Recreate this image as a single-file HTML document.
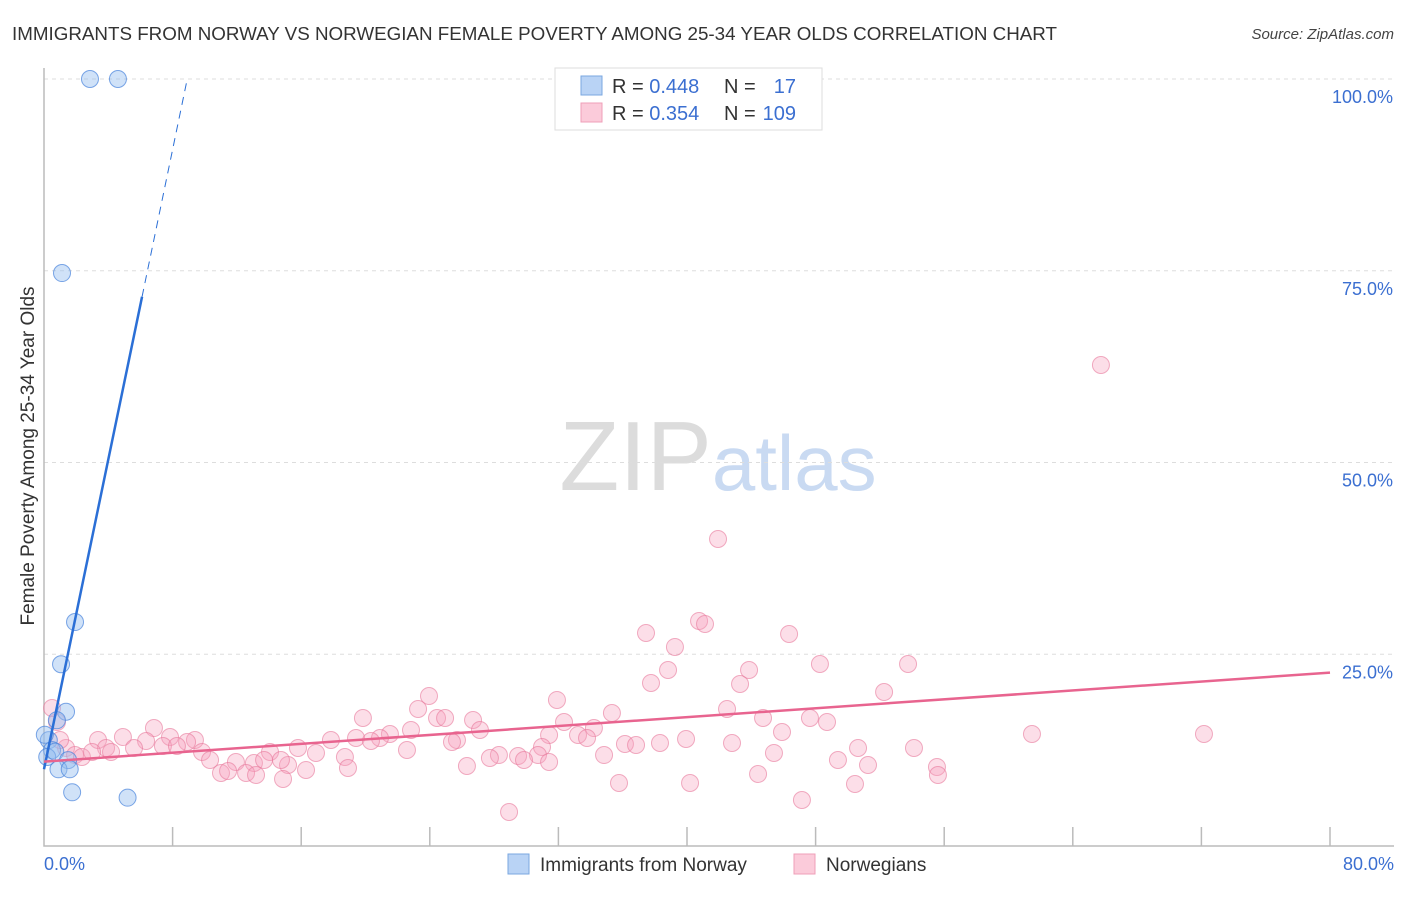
<!DOCTYPE html>
<html><head><meta charset="utf-8"><style>
body{margin:0;background:#fff;font-family:"Liberation Sans",sans-serif}
svg text{font-family:"Liberation Sans",sans-serif}
</style></head><body>
<svg id="chart" width="1406" height="892" xmlns="http://www.w3.org/2000/svg">
<text x="12" y="40" font-size="18.8" fill="#333">IMMIGRANTS FROM NORWAY VS NORWEGIAN FEMALE POVERTY AMONG 25-34 YEAR OLDS CORRELATION CHART</text>
<text x="1394" y="39" font-size="15" fill="#444" text-anchor="end" font-style="italic">Source: ZipAtlas.com</text>
<text x="718" y="490" font-size="98" text-anchor="middle" fill="#dcdcdc" font-family="Liberation Serif">ZIP<tspan fill="#c9daf2" font-family="Liberation Sans" font-size="78">atlas</tspan></text>
<g id="grid"></g><g id="axes"></g><g id="pts"></g><g id="lines"></g>
<text transform="translate(34,456) rotate(-90)" font-size="19" fill="#333" text-anchor="middle">Female Poverty Among 25-34 Year Olds</text>
<g>
<rect x="555" y="68" width="267" height="62" fill="#fff" stroke="#ddd"/>
<rect x="581" y="76" width="21" height="19" fill="#b9d3f5" stroke="#7aa7e0"/>
<rect x="581" y="103" width="21" height="19" fill="#fbcbda" stroke="#ef9fb8"/>
<text x="612" y="93" font-size="20" fill="#333">R = <tspan fill="#3b6fd1">0.448</tspan></text>
<text x="724" y="93" font-size="20" fill="#333">N =</text>
<text x="796" y="93" font-size="20" fill="#3b6fd1" text-anchor="end">17</text>
<text x="612" y="120" font-size="20" fill="#333">R = <tspan fill="#3b6fd1">0.354</tspan></text>
<text x="724" y="120" font-size="20" fill="#333">N =</text>
<text x="796" y="120" font-size="20" fill="#3b6fd1" text-anchor="end">109</text>
</g>
<g>
<rect x="508" y="854" width="21" height="20" fill="#b9d3f5" stroke="#7aa7e0"/>
<text x="540" y="871" font-size="19" fill="#333">Immigrants from Norway</text>
<rect x="794" y="854" width="21" height="20" fill="#fbcbda" stroke="#ef9fb8"/>
<text x="826" y="871" font-size="19" fill="#333">Norwegians</text>
</g>
</svg>
<script>
const xTicks=[8,16,24,32,40,48,56,64,72,80];
const yTicks=[25,50,75,100];
const blueX=[2.86,4.6,1.12,1.93,1.06,1.37,0.8,0.3,0.5,0.2,0.7,1.5,0.9,1.6,1.75,5.2,0.05];
const blueY=[100,100,74.7,29.2,23.7,17.5,16.4,13.8,12.5,11.6,12.3,11.2,10,10,7,6.3,14.5];
const pinkPx=[[1101,365],[718,539],[699,621],[705,624],[646,633],[789,634],[675,647],[820,664],[908,664],[668,670],[749,670],[651,683],[740,684],[884,692],[429,696],[557,700],[418,709],[727,709],[612,713],[363,718],[437,718],[445,718],[473,720],[763,718],[810,718],[827,722],[564,722],[154,728],[480,730],[594,728],[411,730],[782,732],[390,734],[578,735],[549,735],[380,738],[356,738],[331,740],[686,739],[1032,734],[1204,734],[123,737],[98,740],[170,737],[195,740],[146,741],[187,742],[457,740],[452,742],[587,738],[625,744],[636,745],[660,743],[732,743],[371,741],[163,746],[177,746],[298,748],[270,752],[106,748],[134,748],[111,752],[66,748],[202,752],[542,747],[858,748],[914,748],[407,750],[774,753],[316,753],[499,755],[518,756],[538,755],[490,758],[345,757],[210,760],[236,762],[254,763],[264,760],[288,765],[281,760],[604,755],[524,760],[549,762],[838,760],[868,765],[937,767],[467,766],[348,768],[221,773],[228,771],[246,773],[256,775],[306,770],[283,779],[938,775],[758,774],[619,783],[690,783],[855,784],[802,800],[509,812],[57,722],[52,708],[60,740],[75,755],[82,757],[92,752]];
const pinkX=pinkPx.map(p=>+((p[0]-44)/16.075).toFixed(2));
const pinkY=pinkPx.map(p=>+((846-p[1])/7.67).toFixed(2));
const blueFit=[10,10.1];
const pinkFit=[11,0.145];
const X=v=>44+v*16.075, Y=v=>846-v*7.67;
const NS="http://www.w3.org/2000/svg";
function mk(parent,tag,attrs){const e=document.createElementNS(NS,tag);for(const k in attrs)e.setAttribute(k,attrs[k]);document.getElementById(parent).appendChild(e);return e;}
yTicks.forEach(t=>{
 const l=mk('grid','line',{x1:44,x2:1394,y1:Y(t),y2:Y(t),stroke:'#ddd','stroke-dasharray':'4,4'});
 
 
 const tx=mk('grid','text',{x:1393,y:Y(t)+24,'font-size':18,fill:'#3b6fd1','text-anchor':'end'});
 tx.textContent=t.toFixed(1)+'%';
 
 
});
const ax=mk('axes','path',{d:'M44,68V846H1394',fill:'none',stroke:'#bbb','stroke-width':1.5});


xTicks.forEach(t=>{const l=mk('axes','line',{x1:X(t),x2:X(t),y1:827,y2:846,stroke:'#bbb','stroke-width':1.5});
 
 });
[[0,'start',44],[80,'end',1394]].forEach(([v,a,px])=>{const tx=mk('axes','text',{x:px,y:870,'font-size':18,fill:'#3b6fd1','text-anchor':a});tx.textContent=v.toFixed(1)+'%';
 
 });
pinkX.forEach((x,i)=>{const c=mk('pts','circle',{cx:X(x),cy:Y(pinkY[i]),r:8.5,fill:'rgba(246,160,188,0.35)',stroke:'rgba(232,120,155,0.6)','stroke-width':1});
 
 });
blueX.forEach((x,i)=>{const c=mk('pts','circle',{cx:X(x),cy:Y(blueY[i]),r:8.5,fill:'rgba(150,190,240,0.45)',stroke:'rgba(70,130,220,0.7)','stroke-width':1});
 
 });
const bx1=6.1,bx2=(100-blueFit[0])/blueFit[1];
const b1=mk('lines','line',{x1:X(0),y1:Y(blueFit[0]),x2:X(bx1),y2:Y(blueFit[0]+blueFit[1]*bx1),stroke:'#2b6fd6','stroke-width':2.5});


const b2=mk('lines','line',{x1:X(bx1),y1:Y(blueFit[0]+blueFit[1]*bx1),x2:X(bx2),y2:Y(100),stroke:'#2b6fd6','stroke-width':1,'stroke-dasharray':'8,6'});


const p1=mk('lines','line',{x1:X(0),y1:Y(pinkFit[0]),x2:X(80),y2:Y(pinkFit[0]+pinkFit[1]*80),stroke:'#e8648f','stroke-width':2.5});


</script>
</body></html>
